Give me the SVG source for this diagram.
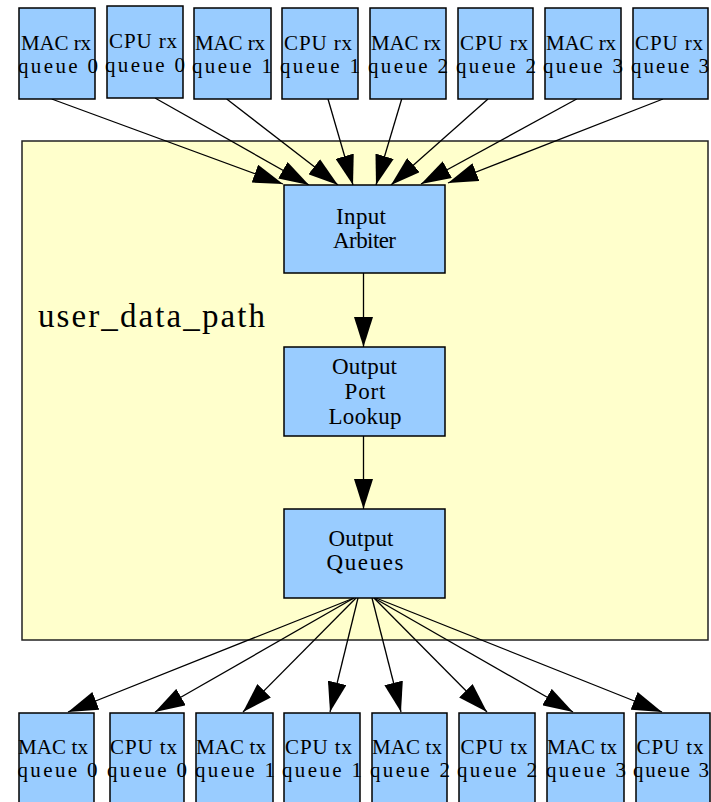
<svg xmlns="http://www.w3.org/2000/svg" width="711" height="802" viewBox="0 0 711 802">
<style>
.box{fill:#99ccff;stroke:#000;stroke-width:1.5}
.cl{fill:#ffffcc;stroke:#222;stroke-width:1.5}
.t{font-family:"Liberation Serif","Times New Roman",serif;font-size:21px;fill:#000;text-anchor:middle}
.c{font-family:"Liberation Serif","Times New Roman",serif;font-size:23px;fill:#000;text-anchor:middle}
.lbl{font-family:"Liberation Serif","Times New Roman",serif;font-size:33px;fill:#000}
.e{stroke:#000;stroke-width:1.3;fill:none;marker-end:url(#ah)}
</style>
<defs>
<marker id="ah" markerWidth="30" markerHeight="19" refX="30" refY="9.5" orient="auto" markerUnits="userSpaceOnUse">
<path d="M0,0 L30,9.5 L0,19 Z" fill="#000"/>
</marker>
</defs>
<g id="cluster_user_data_path">
<rect class="cl" x="22" y="141" width="686" height="499"/>
<text class="lbl" x="38" y="327" textLength="227" lengthAdjust="spacing">user_data_path</text>
</g>
<g id="connectors">
<line class="e" x1="51.7" y1="99" x2="283" y2="184"/>
<line class="e" x1="155" y1="98" x2="309" y2="185"/>
<line class="e" x1="226.7" y1="99" x2="338" y2="185"/>
<line class="e" x1="328" y1="99" x2="353" y2="185"/>
<line class="e" x1="401.7" y1="99" x2="376" y2="185"/>
<line class="e" x1="488" y1="99" x2="391" y2="185"/>
<line class="e" x1="576.7" y1="99" x2="421" y2="184"/>
<line class="e" x1="663" y1="99" x2="448" y2="183"/>
<line class="e" x1="363.5" y1="273" x2="363.5" y2="347"/>
<line class="e" x1="363.5" y1="436" x2="363.5" y2="509"/>
<line class="e" x1="354" y1="598" x2="68" y2="712"/>
<line class="e" x1="354" y1="598" x2="155" y2="712"/>
<line class="e" x1="356" y1="598" x2="243" y2="712"/>
<line class="e" x1="358" y1="598" x2="330" y2="712"/>
<line class="e" x1="372" y1="598" x2="401" y2="712"/>
<line class="e" x1="374" y1="598" x2="487" y2="712"/>
<line class="e" x1="374" y1="598" x2="573" y2="712"/>
<line class="e" x1="376" y1="598" x2="662" y2="712"/>
</g>
<g id="mac_rx_0"><rect class="box" x="19" y="8" width="76" height="91"/><text class="t" x="56" y="50" textLength="70" lengthAdjust="spacing">MAC rx</text><text class="t" x="58" y="73" textLength="80" lengthAdjust="spacing">queue 0</text></g>
<g id="cpu_rx_0"><rect class="box" x="107" y="6" width="76" height="92"/><text class="t" x="143" y="48" textLength="68" lengthAdjust="spacing">CPU rx</text><text class="t" x="145" y="71.5" textLength="80" lengthAdjust="spacing">queue 0</text></g>
<g id="mac_rx_1"><rect class="box" x="194" y="8" width="77" height="91"/><text class="t" x="230" y="50" textLength="70" lengthAdjust="spacing">MAC rx</text><text class="t" x="232" y="73" textLength="80" lengthAdjust="spacing">queue 1</text></g>
<g id="cpu_rx_1"><rect class="box" x="282" y="8" width="76" height="91"/><text class="t" x="318" y="50" textLength="68" lengthAdjust="spacing">CPU rx</text><text class="t" x="320" y="73" textLength="80" lengthAdjust="spacing">queue 1</text></g>
<g id="mac_rx_2"><rect class="box" x="370" y="8" width="76" height="91"/><text class="t" x="406" y="50" textLength="70" lengthAdjust="spacing">MAC rx</text><text class="t" x="408" y="73" textLength="80" lengthAdjust="spacing">queue 2</text></g>
<g id="cpu_rx_2"><rect class="box" x="458" y="8" width="75" height="91"/><text class="t" x="494" y="50" textLength="68" lengthAdjust="spacing">CPU rx</text><text class="t" x="496" y="73" textLength="80" lengthAdjust="spacing">queue 2</text></g>
<g id="mac_rx_3"><rect class="box" x="545" y="8" width="76" height="91"/><text class="t" x="581" y="50" textLength="70" lengthAdjust="spacing">MAC rx</text><text class="t" x="583" y="73" textLength="80" lengthAdjust="spacing">queue 3</text></g>
<g id="cpu_rx_3"><rect class="box" x="633" y="8" width="75" height="91"/><text class="t" x="669" y="50" textLength="68" lengthAdjust="spacing">CPU rx</text><text class="t" x="670" y="73" textLength="78" lengthAdjust="spacing">queue 3</text></g>
<g id="input_arbiter"><rect class="box" x="284" y="185" width="161" height="88"/><text class="c" x="361" y="224" textLength="50" lengthAdjust="spacing">Input</text><text class="c" x="364.5" y="248" textLength="63" lengthAdjust="spacing">Arbiter</text></g>
<g id="output_port_lookup"><rect class="box" x="284" y="347" width="161" height="89"/><text class="c" x="364.5" y="374" textLength="65" lengthAdjust="spacing">Output</text><text class="c" x="365" y="398.5" textLength="41" lengthAdjust="spacing">Port</text><text class="c" x="365" y="423.5" textLength="73" lengthAdjust="spacing">Lookup</text></g>
<g id="output_queues"><rect class="box" x="284" y="509" width="161" height="89"/><text class="c" x="361" y="546" textLength="65" lengthAdjust="spacing">Output</text><text class="c" x="365" y="570" textLength="77" lengthAdjust="spacing">Queues</text></g>
<g id="mac_tx_0"><rect class="box" x="19" y="713" width="75" height="92"/><text class="t" x="53" y="754" textLength="70" lengthAdjust="spacing">MAC tx</text><text class="t" x="57.5" y="777" textLength="80" lengthAdjust="spacing">queue 0</text></g>
<g id="cpu_tx_0"><rect class="box" x="110" y="713" width="74" height="92"/><text class="t" x="143.5" y="754" textLength="67" lengthAdjust="spacing">CPU tx</text><text class="t" x="147" y="777" textLength="80" lengthAdjust="spacing">queue 0</text></g>
<g id="mac_tx_1"><rect class="box" x="196" y="713" width="77" height="92"/><text class="t" x="231" y="754" textLength="70" lengthAdjust="spacing">MAC tx</text><text class="t" x="235" y="777" textLength="80" lengthAdjust="spacing">queue 1</text></g>
<g id="cpu_tx_1"><rect class="box" x="284" y="713" width="76" height="92"/><text class="t" x="318.5" y="754" textLength="67" lengthAdjust="spacing">CPU tx</text><text class="t" x="322" y="777" textLength="80" lengthAdjust="spacing">queue 1</text></g>
<g id="mac_tx_2"><rect class="box" x="372" y="713" width="75" height="92"/><text class="t" x="407" y="754" textLength="70" lengthAdjust="spacing">MAC tx</text><text class="t" x="410" y="777" textLength="80" lengthAdjust="spacing">queue 2</text></g>
<g id="cpu_tx_2"><rect class="box" x="459" y="713" width="76" height="92"/><text class="t" x="494" y="754" textLength="67" lengthAdjust="spacing">CPU tx</text><text class="t" x="497" y="777" textLength="80" lengthAdjust="spacing">queue 2</text></g>
<g id="mac_tx_3"><rect class="box" x="547" y="713" width="77" height="92"/><text class="t" x="582" y="754" textLength="70" lengthAdjust="spacing">MAC tx</text><text class="t" x="586" y="777" textLength="80" lengthAdjust="spacing">queue 3</text></g>
<g id="cpu_tx_3"><rect class="box" x="636" y="713" width="74" height="92"/><text class="t" x="670" y="754" textLength="67" lengthAdjust="spacing">CPU tx</text><text class="t" x="671" y="777" textLength="76" lengthAdjust="spacing">queue 3</text></g>
</svg>
